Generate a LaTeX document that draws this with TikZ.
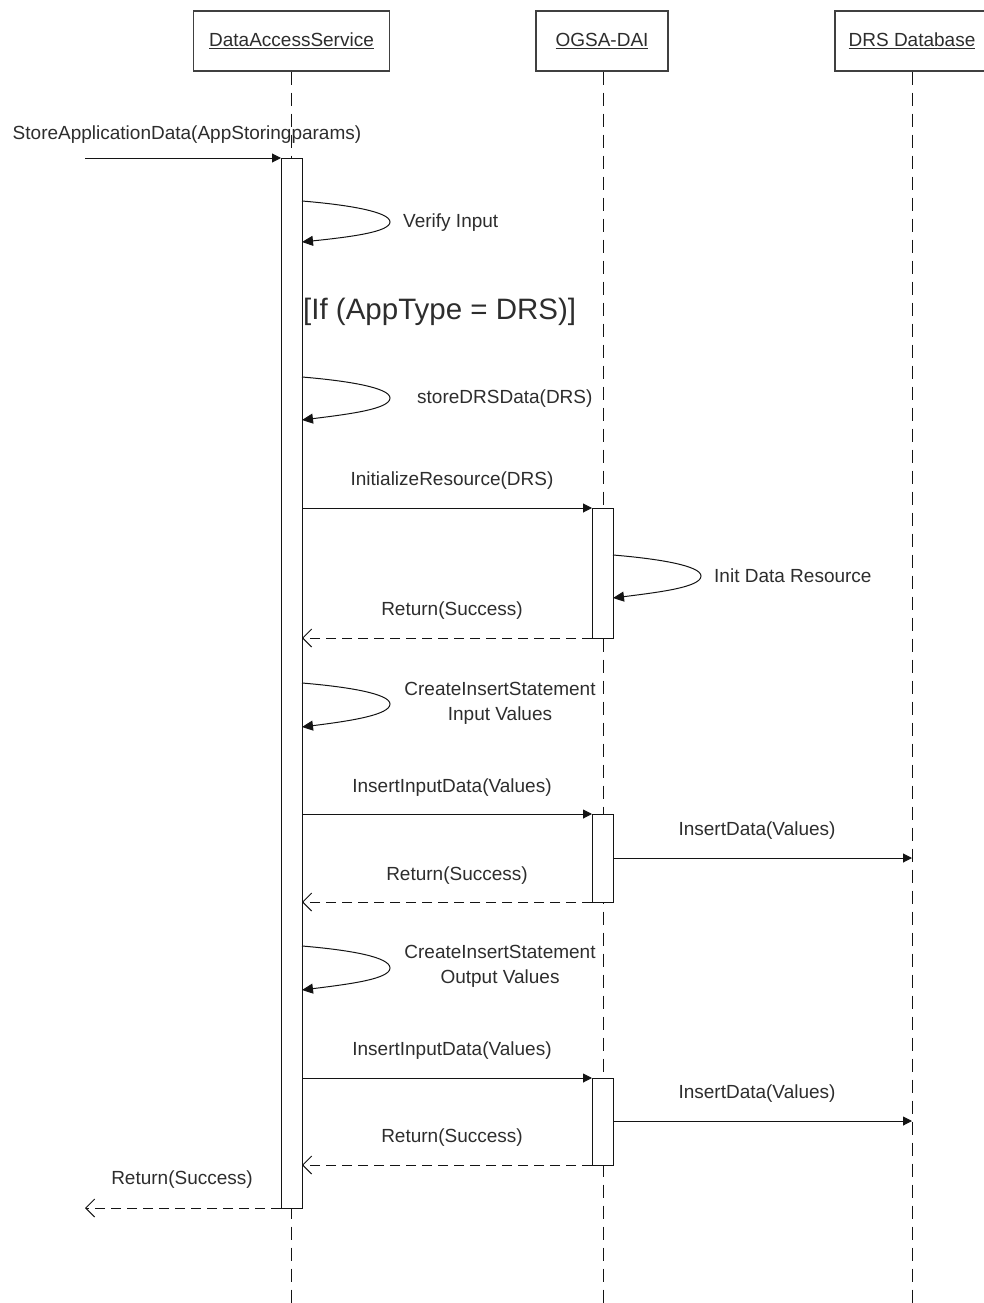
\documentclass[tikz,border=0pt]{standalone}
\usepackage{fontspec}
\setmainfont{Liberation Sans}
\usetikzlibrary{arrows.meta}
\definecolor{txt}{RGB}{45,45,45}
\definecolor{ln}{RGB}{20,20,20}
\tikzset{
  every node/.style={font=\fontsize{19}{25}\selectfont, text=txt, inner sep=0pt},
  headbox/.style={draw=black!75, line width=1.6pt, fill=white, minimum width=#1, minimum height=60pt, anchor=north},
  lifeline/.style={draw=ln, line width=1pt, dash pattern=on 13pt off 8pt},
  actbox/.style={draw=ln, line width=1pt, fill=white},
  syncmsg/.style={draw=ln, line width=1pt, -{Triangle[length=9pt,width=9pt]}},
  retmsg/.style={draw=ln, line width=1pt, dash pattern=on 10pt off 6pt, -{Straight Barb[length=9pt,width=18pt,line width=1pt]}},
  selfmsg/.style={draw=ln, line width=1pt, -{Triangle[length=11pt,width=10pt]}},
  msglabel/.style={anchor=center},
}
\begin{document}
\begin{tikzpicture}[x=1pt,y=-1pt]
\useasboundingbox (0,0) rectangle (983,1303);
% headers
\node[headbox=196pt] (das) at (291.5,10) {\underline{DataAccessService}};
\node[headbox=132pt] (ogsa) at (602,10) {\underline{OGSA-DAI}};
\node[headbox=154pt] (drs) at (912,10) {\underline{DRS Database}};
% lifelines
\coordinate (dasEnd) at (291,1303);
\coordinate (ogsaEnd) at (603,1303);
\coordinate (drsEnd) at (912,1303);
\draw[lifeline] (das.south -| dasEnd) -- (dasEnd);
\draw[lifeline] (ogsa.south -| ogsaEnd) -- (ogsaEnd);
\draw[lifeline] (drs.south -| drsEnd) -- (drsEnd);
% activations
\draw[actbox] (281,158) rectangle (302,1208);
\coordinate (dasL) at (281,0);
\coordinate (dasR) at (302,0);
\draw[actbox] (592,508) rectangle (613,638);
\draw[actbox] (592,814) rectangle (613,902);
\draw[actbox] (592,1078) rectangle (613,1165);
\coordinate (oL) at (592,0);
\coordinate (oR) at (613,0);
\coordinate (dbX) at (912,0);
% incoming call
\coordinate (start) at (85,158);
\draw[syncmsg] (start) -- (start -| dasL);
\node[msglabel] (l0) at (187,135) {StoreApplicationData(AppStoringparams)};
% Verify Input
\coordinate (v1) at (302,201); \coordinate (v2) at (390,222); \coordinate (v3) at (302,242);
\draw[selfmsg] (v1) .. controls (350,205) and (390,212) .. (v2) .. controls (390,232) and (350,237) .. (v3);
\node[anchor=west] (lv) at (403,223) {Verify Input};
% condition
\node[font=\fontsize{29.5}{34}\selectfont, anchor=west] (cond) at (303,312) {[If (AppType = DRS)]};
% storeDRSData
\coordinate (s1) at (302,377); \coordinate (s2) at (390,398); \coordinate (s3) at (302,420);
\draw[selfmsg] (s1) .. controls (350,381) and (390,388) .. (s2) .. controls (390,409) and (350,414) .. (s3);
\node[anchor=west] (ls) at (417,399) {storeDRSData(DRS)};
% InitializeResource
\draw[syncmsg] (dasR |- 0,508) -- (oL |- 0,508);
\node[msglabel] (l1) at (452,481) {InitializeResource(DRS)};
% Init Data Resource
\coordinate (i1) at (613,555); \coordinate (i2) at (701,576); \coordinate (i3) at (613,598);
\draw[selfmsg] (i1) .. controls (661,559) and (701,566) .. (i2) .. controls (701,587) and (661,592) .. (i3);
\node[anchor=west] (li) at (714,576) {Init Data Resource};
% Return 1
\draw[retmsg] (oL |- 0,638) -- (dasR |- 0,638);
\node[msglabel] (r1) at (452,611) {Return(Success)};
% CreateInsertStatement 1
\coordinate (c1) at (302,683); \coordinate (c2) at (390,704); \coordinate (c3) at (302,727);
\draw[selfmsg] (c1) .. controls (350,687) and (390,694) .. (c2) .. controls (390,715) and (350,721) .. (c3);
\node[align=center] (lc1) at (500,703.5) {CreateInsertStatement\\Input Values};
% InsertInputData 1
\draw[syncmsg] (dasR |- 0,814) -- (oL |- 0,814);
\node[msglabel] (l2) at (452,788) {InsertInputData(Values)};
\draw[syncmsg] (oR |- 0,858) -- (dbX |- 0,858);
\node[msglabel] (l3) at (757,831) {InsertData(Values)};
\draw[retmsg] (oL |- 0,902) -- (dasR |- 0,902);
\node[msglabel] (r2) at (457,876) {Return(Success)};
% CreateInsertStatement 2
\coordinate (d1) at (302,946); \coordinate (d2) at (390,968); \coordinate (d3) at (302,990);
\draw[selfmsg] (d1) .. controls (350,950) and (390,957) .. (d2) .. controls (390,979) and (350,984) .. (d3);
\node[align=center] (lc2) at (500,966.5) {CreateInsertStatement\\Output Values};
% InsertInputData 2
\draw[syncmsg] (dasR |- 0,1078) -- (oL |- 0,1078);
\node[msglabel] (l4) at (452,1051) {InsertInputData(Values)};
\draw[syncmsg] (oR |- 0,1121) -- (dbX |- 0,1121);
\node[msglabel] (l5) at (757,1094) {InsertData(Values)};
\draw[retmsg] (oL |- 0,1165) -- (dasR |- 0,1165);
\node[msglabel] (r3) at (452,1138) {Return(Success)};
% final return
\coordinate (fin) at (85,1208);
\draw[retmsg] (dasL |- 0,1208) -- (fin);
\node[msglabel] (r4) at (182,1180) {Return(Success)};
\end{tikzpicture}
\end{document}
